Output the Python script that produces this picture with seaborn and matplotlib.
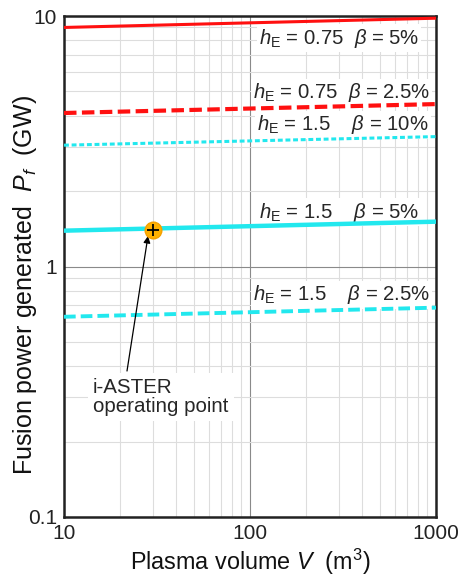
import numpy as np
import pandas as pd
import matplotlib
matplotlib.use("Agg")
import matplotlib.pyplot as plt
import seaborn as sns
from matplotlib.ticker import FixedLocator, FixedFormatter, LogLocator, NullFormatter

sns.set_theme(style="white")
plt.rcParams['font.family'] = ['Liberation Sans', 'DejaVu Sans']
plt.rcParams['mathtext.fontset'] = 'custom'
plt.rcParams['mathtext.rm'] = 'Liberation Sans'
plt.rcParams['mathtext.it'] = 'Liberation Sans:italic'

# Data
volume = [10, 1000]
p_h075_b5 = [9.0, 9.8]
p_h075_b25 = [4.1, 4.45]
p_h15_b10 = [3.05, 3.3]
p_h15_b5 = [1.39, 1.51]
p_h15_b25 = [0.63, 0.685]
op_volume = [30]
op_power = [1.40]

labels = [r"$h_{\mathrm{E}}$ = 0.75  $\beta$ = 5%",
          r"$h_{\mathrm{E}}$ = 0.75  $\beta$ = 2.5%",
          r"$h_{\mathrm{E}}$ = 1.5    $\beta$ = 10%",
          r"$h_{\mathrm{E}}$ = 1.5    $\beta$ = 5%",
          r"$h_{\mathrm{E}}$ = 1.5    $\beta$ = 2.5%"]

fig = plt.figure(figsize=(4.65, 5.8), dpi=100)
ax = fig.add_axes([64/465, 1-517/580, 372/465, 501/580])

def px2data(px, py):
    return 10**(1 + (px-64)/186), 10**(1 - (py-16)/250.5)

red = "#FF1010"
cyan = "#22E8EE"
series = [
    (p_h075_b5, red, "-", 2.2),
    (p_h075_b25, red, (0, (3.0, 1.3)), 3.0),
    (p_h15_b10, cyan, (0, (1.6, 0.9)), 2.2),
    (p_h15_b5, cyan, "-", 3.2),
    (p_h15_b25, cyan, (0, (3.0, 1.3)), 2.8),
]
for ys, c, ls, lw in series:
    df = pd.DataFrame({"V": volume, "P": ys})
    sns.lineplot(data=df, x="V", y="P", ax=ax, color=c, linewidth=lw, linestyle=ls, zorder=3)

ax.set_xscale("log")
ax.set_yscale("log")
ax.set_xlim(10, 1000)
ax.set_ylim(0.1, 10)

# operating point
ax.plot(op_volume, op_power, marker="o", markersize=12, color="#FFB000",
        markeredgecolor="#F5A000", linestyle="none", zorder=5)
ax.plot(op_volume, op_power, marker="+", markersize=9, color="black",
        markeredgewidth=1.3, linestyle="none", zorder=6)

# annotation text + arrow
tx, ty = px2data(93, 397)
ax.text(tx, ty, "i-ASTER\noperating point", fontsize=14.8, ha="left", va="center",
        linespacing=0.95, zorder=2,
        bbox=dict(boxstyle="square,pad=0.25", fc="white", ec="none"))
ax.annotate("", xy=px2data(148, 236), xytext=px2data(127, 371),
            arrowprops=dict(arrowstyle="-|>", color="black", lw=0.9,
                            shrinkA=0, shrinkB=0, mutation_scale=10),
            zorder=4)

# curve labels
label_px = [(259, 38), (253, 93), (257, 125), (259, 212), (253, 295)]
for (px, py), txt in zip(label_px, labels):
    xv, yv = px2data(px, py)
    ax.text(xv, yv, txt, fontsize=14.6, ha="left", va="center", zorder=2,
            bbox=dict(boxstyle="square,pad=0.1", fc="white", ec="none"))

ax.xaxis.set_major_locator(FixedLocator([10, 100, 1000]))
ax.xaxis.set_major_formatter(FixedFormatter(["10", "100", "1000"]))
ax.yaxis.set_major_locator(FixedLocator([0.1, 1, 10]))
ax.yaxis.set_major_formatter(FixedFormatter(["0.1", "1", "10"]))
ax.xaxis.set_minor_locator(LogLocator(base=10, subs=np.arange(2, 10)))
ax.yaxis.set_minor_locator(LogLocator(base=10, subs=np.arange(2, 10)))
ax.xaxis.set_minor_formatter(NullFormatter())
ax.yaxis.set_minor_formatter(NullFormatter())
ax.tick_params(which="both", length=0, labelsize=15, colors="#222222")
ax.tick_params(axis="x", pad=5)
ax.tick_params(axis="y", pad=5)

ax.grid(which="major", color="#8a8a8a", linewidth=0.8, zorder=0)
ax.grid(which="minor", color="#dddddd", linewidth=0.8, zorder=0)
ax.set_axisbelow(True)
for s in ax.spines.values():
    s.set_color("#222222")
    s.set_linewidth(1.8)

ax.set_xlabel(r"Plasma volume $V$  (m$^3$)", fontsize=16.8, color="#111111", labelpad=3)
ax.set_ylabel("")
fig.text(25/465, 1-285/580, r"Fusion power generated  $P_f$  (GW)", fontsize=18,
         color="#111111", rotation=90, ha="center", va="center")

fig.savefig("out.png", dpi=100)
